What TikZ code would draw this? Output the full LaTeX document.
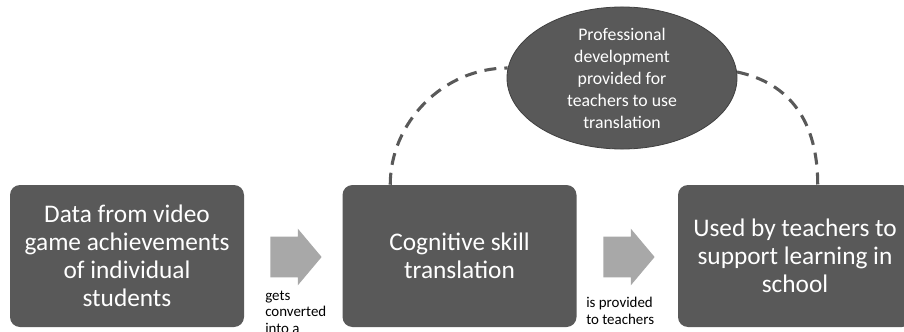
\documentclass[tikz,border=0pt]{standalone}
\usepackage{fontspec}
\setmainfont{Carlito}
\usetikzlibrary{shapes.geometric,shapes.arrows}
\definecolor{boxgray}{RGB}{89,89,89}
\definecolor{arrowgray}{RGB}{168,168,168}
\definecolor{edgegray}{RGB}{64,64,64}
\begin{document}
\begin{tikzpicture}[x=0.75pt,y=-0.75pt,
  box/.style={rectangle, rounded corners=7.5pt, fill=boxgray, text=white,
    minimum width=175.5pt, minimum height=106.5pt, inner sep=0pt, align=center,
    font=\fontsize{19}{21}\selectfont},
  ell/.style={ellipse, fill=boxgray, draw=edgegray, line width=0.6pt, text=white,
    minimum width=172.5pt, minimum height=105pt, inner sep=0pt, align=center,
    font=\fontsize{13.3}{16.5}\selectfont},
  blockarrow/.style={single arrow, fill=arrowgray, draw=none, inner xsep=0pt,
    inner ysep=15pt, minimum height=38.5pt, single arrow head extend=6pt,
    single arrow tip angle=100, anchor=tail},
  lbl/.style={inner sep=0pt, align=left, anchor=base west,
    font=\fontsize{11.2}{12.6}\selectfont},
  dashline/.style={draw=boxgray, line width=2.3pt, dash pattern=on 9pt off 6pt}]
\useasboundingbox (0,0) rectangle (904,332);
\node[box] (b1) at (127,256) {Data from video\\game achievements\\of individual\\students};
\node[box] (b2) at (459.5,256) {Cognitive skill\\translation};
\node[box] (b3) at (795,256) {Used by teachers to\\support learning in\\school};
\node[ell] (e) at (622,78) {Professional\\development\\provided for\\teachers to use\\translation};
\node[blockarrow] (a1) at (270,257) {};
\node[blockarrow] (a2) at (603,257) {};
\node[lbl] (l1) at (265,333.6) {gets\\converted\\into a};
\node[lbl] (l2) at (586,324.6) {is provided\\to teachers};
\draw[dashline] ([xshift=36pt]b2.north west) .. controls +(0,-62) and +(-65,0) .. (e.175);
\draw[dashline] (e.3) .. controls +(53,11) and +(0,-63) .. ([xshift=105pt]b3.north west);
\end{tikzpicture}
\end{document}
